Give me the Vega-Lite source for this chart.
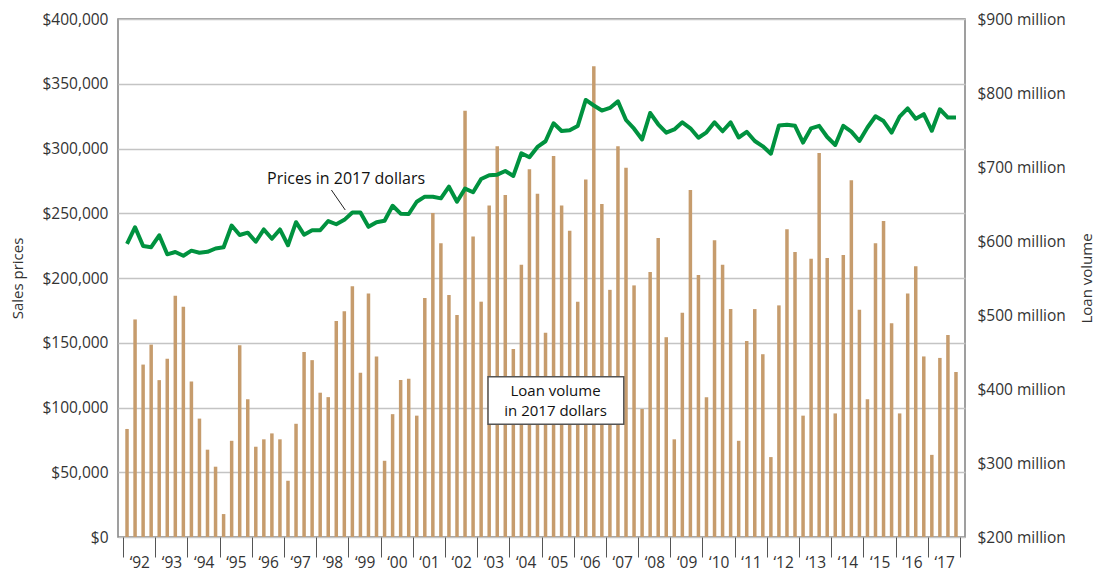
{
  "$schema": "https://vega.github.io/schema/vega-lite/v6.json",
  "width": 847,
  "height": 518,
  "autosize": {"type": "none"},
  "padding": {"left": 118, "top": 19, "right": 135, "bottom": 37},
  "config": {
    "font": "Open Sans",
    "view": {"stroke": "#808080", "strokeWidth": 1.5},
    "axis": {"labelFont": "Open Sans", "titleFont": "Open Sans", "labelColor": "#333333", "titleColor": "#333333", "titleFontWeight": "normal"}
  },
  "datasets": {
    "q": [
      {"t": 1992.125, "loan": 346, "price": 226400}, {"t": 1992.375, "loan": 494, "price": 239200}, {"t": 1992.625, "loan": 433, "price": 224700}, {"t": 1992.875, "loan": 460, "price": 223800},
      {"t": 1993.125, "loan": 412, "price": 233000}, {"t": 1993.375, "loan": 441, "price": 218300}, {"t": 1993.625, "loan": 526, "price": 220100}, {"t": 1993.875, "loan": 511, "price": 217200},
      {"t": 1994.125, "loan": 410, "price": 221100}, {"t": 1994.375, "loan": 360, "price": 219500}, {"t": 1994.625, "loan": 318, "price": 220200}, {"t": 1994.875, "loan": 295, "price": 222800},
      {"t": 1995.125, "loan": 231, "price": 223700}, {"t": 1995.375, "loan": 330, "price": 240500}, {"t": 1995.625, "loan": 459, "price": 233200}, {"t": 1995.875, "loan": 386, "price": 235000},
      {"t": 1996.125, "loan": 322, "price": 228000}, {"t": 1996.375, "loan": 332, "price": 237500}, {"t": 1996.625, "loan": 340, "price": 230300}, {"t": 1996.875, "loan": 332, "price": 237500},
      {"t": 1997.125, "loan": 276, "price": 225300}, {"t": 1997.375, "loan": 353, "price": 243100}, {"t": 1997.625, "loan": 450, "price": 233400}, {"t": 1997.875, "loan": 439, "price": 236800},
      {"t": 1998.125, "loan": 395, "price": 236900}, {"t": 1998.375, "loan": 389, "price": 244000}, {"t": 1998.625, "loan": 492, "price": 241500}, {"t": 1998.875, "loan": 505, "price": 244900},
      {"t": 1999.125, "loan": 539, "price": 250600}, {"t": 1999.375, "loan": 422, "price": 250600}, {"t": 1999.625, "loan": 529, "price": 239500}, {"t": 1999.875, "loan": 444, "price": 243100},
      {"t": 2000.125, "loan": 303, "price": 244200}, {"t": 2000.375, "loan": 366, "price": 255800}, {"t": 2000.625, "loan": 412, "price": 249700}, {"t": 2000.875, "loan": 414, "price": 249400},
      {"t": 2001.125, "loan": 364, "price": 258900}, {"t": 2001.375, "loan": 523, "price": 262800}, {"t": 2001.625, "loan": 638, "price": 262800}, {"t": 2001.875, "loan": 597, "price": 261500},
      {"t": 2002.125, "loan": 527, "price": 270500}, {"t": 2002.375, "loan": 500, "price": 258900}, {"t": 2002.625, "loan": 776, "price": 269000}, {"t": 2002.875, "loan": 606, "price": 266200},
      {"t": 2003.125, "loan": 518, "price": 276400}, {"t": 2003.375, "loan": 648, "price": 279300}, {"t": 2003.625, "loan": 728, "price": 279800}, {"t": 2003.875, "loan": 662, "price": 282600},
      {"t": 2004.125, "loan": 454, "price": 278800}, {"t": 2004.375, "loan": 568, "price": 296300}, {"t": 2004.625, "loan": 697, "price": 293200}, {"t": 2004.875, "loan": 664, "price": 301200},
      {"t": 2005.125, "loan": 476, "price": 305600}, {"t": 2005.375, "loan": 715, "price": 319500}, {"t": 2005.625, "loan": 648, "price": 313500}, {"t": 2005.875, "loan": 614, "price": 314100},
      {"t": 2006.125, "loan": 518, "price": 317400}, {"t": 2006.375, "loan": 683, "price": 337500}, {"t": 2006.625, "loan": 836, "price": 333200}, {"t": 2006.875, "loan": 650, "price": 329300},
      {"t": 2007.125, "loan": 534, "price": 331300}, {"t": 2007.375, "loan": 728, "price": 336400}, {"t": 2007.625, "loan": 699, "price": 322000}, {"t": 2007.875, "loan": 540, "price": 315300},
      {"t": 2008.125, "loan": 373, "price": 307000}, {"t": 2008.375, "loan": 558, "price": 327400}, {"t": 2008.625, "loan": 604, "price": 318700}, {"t": 2008.875, "loan": 470, "price": 312200},
      {"t": 2009.125, "loan": 332, "price": 314700}, {"t": 2009.375, "loan": 503, "price": 320200}, {"t": 2009.625, "loan": 669, "price": 315600}, {"t": 2009.875, "loan": 554, "price": 308300},
      {"t": 2010.125, "loan": 389, "price": 312500}, {"t": 2010.375, "loan": 601, "price": 320200}, {"t": 2010.625, "loan": 568, "price": 313300}, {"t": 2010.875, "loan": 508, "price": 320200},
      {"t": 2011.125, "loan": 330, "price": 308500}, {"t": 2011.375, "loan": 465, "price": 312900}, {"t": 2011.625, "loan": 508, "price": 305800}, {"t": 2011.875, "loan": 447, "price": 301700},
      {"t": 2012.125, "loan": 308, "price": 296000}, {"t": 2012.375, "loan": 513, "price": 317800}, {"t": 2012.625, "loan": 616, "price": 318400}, {"t": 2012.875, "loan": 585, "price": 317500},
      {"t": 2013.125, "loan": 364, "price": 304600}, {"t": 2013.375, "loan": 576, "price": 315600}, {"t": 2013.625, "loan": 719, "price": 317500}, {"t": 2013.875, "loan": 577, "price": 308900},
      {"t": 2014.125, "loan": 367, "price": 302700}, {"t": 2014.375, "loan": 581, "price": 317500}, {"t": 2014.625, "loan": 682, "price": 313000}, {"t": 2014.875, "loan": 507, "price": 305800},
      {"t": 2015.125, "loan": 386, "price": 316200}, {"t": 2015.375, "loan": 597, "price": 324900}, {"t": 2015.625, "loan": 627, "price": 321200}, {"t": 2015.875, "loan": 489, "price": 312200},
      {"t": 2016.125, "loan": 367, "price": 324600}, {"t": 2016.375, "loan": 529, "price": 331000}, {"t": 2016.625, "loan": 566, "price": 323000}, {"t": 2016.875, "loan": 444, "price": 326500},
      {"t": 2017.125, "loan": 311, "price": 313700}, {"t": 2017.375, "loan": 442, "price": 330300}, {"t": 2017.625, "loan": 473, "price": 323900}, {"t": 2017.875, "loan": 423, "price": 323900}
    ]
  },
  "encoding": {
    "x": {
      "field": "t",
      "type": "quantitative",
      "scale": {"domain": [1992, 2018], "nice": false, "zero": false},
      "axis": {
        "title": null,
        "values": [1992, 1993, 1994, 1995, 1996, 1997, 1998, 1999, 2000, 2001, 2002, 2003, 2004, 2005, 2006, 2007, 2008, 2009, 2010, 2011, 2012, 2013, 2014, 2015, 2016, 2017, 2018],
        "format": "d",
        "labelExpr": "datum.value < 2018 ? '‘' + slice(datum.label, 2) : ''",
        "labelOffset": 16.3,
        "labelFlush": false,
        "labelOverlap": false,
        "labelBound": false,
        "labelFontSize": 15.5,
        "labelPadding": -2,
        "tickSize": 20,
        "tickColor": "#555555",
        "tickWidth": 1,
        "domain": false,
        "grid": false
      }
    }
  },
  "layer": [
    {
      "data": {"name": "q"},
      "mark": {"type": "bar", "size": 3.5, "color": "#C69C6D"},
      "encoding": {
        "y": {
          "field": "loan",
          "type": "quantitative",
          "scale": {"domain": [200, 900], "nice": false, "zero": false},
          "axis": {
            "orient": "right",
            "values": [200, 300, 400, 500, 600, 700, 800, 900],
            "labelExpr": "'$' + datum.value + ' million'",
            "labelFontSize": 15.5,
            "labelPadding": 12,
            "ticks": false,
            "domain": false,
            "grid": false,
            "title": "Loan volume",
            "titleFontSize": 15,
            "titleAngle": -90,
            "titlePadding": 29
          }
        },
        "y2": {"datum": 200}
      }
    },
    {
      "encoding": {
        "y": {
          "field": "price",
          "type": "quantitative",
          "scale": {"domain": [0, 400000], "nice": false},
          "axis": {
            "orient": "left",
            "values": [0, 50000, 100000, 150000, 200000, 250000, 300000, 350000, 400000],
            "format": "$,.0f",
            "labelFontSize": 15.5,
            "labelPadding": 10,
            "ticks": false,
            "domain": false,
            "grid": true,
            "gridColor": "#c4c4c4",
            "gridWidth": 1.5,
            "title": "Sales prices",
            "titleFontSize": 15,
            "titlePadding": 16
          }
        }
      },
      "layer": [
        {
          "data": {"name": "q"},
          "mark": {"type": "line", "color": "#00923F", "strokeWidth": 4, "strokeJoin": "round"}
        },
        {
          "data": {"values": [{"t": 1998.474, "price": 267950, "t2": 1998.904, "price2": 252500}]},
          "mark": {"type": "rule", "color": "#222222", "strokeWidth": 1},
          "encoding": {"x2": {"field": "t2"}, "y2": {"field": "price2"}}
        },
        {
          "data": {"values": [{"label": "Prices in 2017 dollars", "t": 1998.93, "price": 276450}]},
          "mark": {"type": "text", "fontSize": 16, "color": "#111111", "align": "center", "baseline": "middle"},
          "encoding": {"text": {"field": "label"}}
        },
        {
          "data": {"values": [{"t": 2003.339, "t2": 2007.556, "price": 123780, "price2": 87030}]},
          "mark": {"type": "rect", "fill": "#ffffff", "stroke": "#555555", "strokeWidth": 1.5},
          "encoding": {"x2": {"field": "t2"}, "y2": {"field": "price2"}}
        },
        {
          "data": {"values": [
            {"label": "Loan volume", "t": 2005.437, "price": 113100},
            {"label": "in 2017 dollars", "t": 2005.437, "price": 97300}
          ]},
          "mark": {"type": "text", "fontSize": 15, "color": "#111111", "align": "center", "baseline": "middle"},
          "encoding": {"text": {"field": "label"}}
        }
      ]
    }
  ],
  "resolve": {"scale": {"y": "independent"}}
}
